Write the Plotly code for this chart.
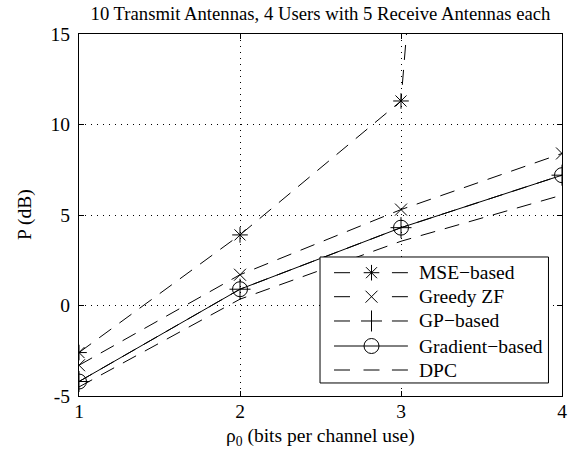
import plotly.graph_objects as go

# ---- data ----
rho = [1, 2, 3, 4]
mse_based = [-2.6, 3.9, 11.3, 120.0]
greedy_zf = [-3.3, 1.7, 5.3, 8.4]
gp_based = [-4.2, 0.9, 4.3, 7.2]
gradient_based = [-4.2, 0.9, 4.3, 7.2]
dpc = [-4.5, 0.35, 3.55, 6.1]

x_ticks = [1, 2, 3, 4]
y_ticks = [-5, 0, 5, 10, 15]
legend_names = ["MSE\u2212based", "Greedy ZF", "GP\u2212based", "Gradient\u2212based", "DPC"]

FONT = "Liberation Serif, Times New Roman, serif"
FS = 19.5
DASH = "15px,10px"

fig = go.Figure()

series = [
    (mse_based, "asterisk-open", 13, DASH),
    (greedy_zf, "x-thin-open", 12, DASH),
    (gp_based, "cross-thin-open", 15, DASH),
    (gradient_based, "circle-open", 15, "solid"),
    (dpc, None, 0, DASH),
]

for vals, sym, sz, dash in series:
    if sym is None:
        fig.add_trace(go.Scatter(x=rho, y=vals, mode="lines",
                                 line=dict(color="black", width=1, dash=dash),
                                 showlegend=False, hoverinfo="skip"))
    else:
        fig.add_trace(go.Scatter(x=rho, y=vals, mode="lines+markers",
                                 line=dict(color="black", width=1, dash=dash),
                                 marker=dict(symbol=sym, size=sz, color="black",
                                             line=dict(color="black", width=1)),
                                 showlegend=False, hoverinfo="skip"))

# ---- manual legend (overlay axes in paper-like units) ----
L, R, T, B = 0.499, 0.972, 0.384, 0.036
fig.add_trace(go.Scatter(x=[L, R, R, L, L], y=[B, B, T, T, B], mode="lines",
                         fill="toself", fillcolor="white",
                         line=dict(color="black", width=1),
                         xaxis="x2", yaxis="y2", showlegend=False, hoverinfo="skip"))
rows = [0.3406, 0.2743, 0.2072, 0.1381, 0.0718]
sx0, sx1, smid = 0.528, 0.681, 0.6056
d = 0.0331  # dash length in paper units
seg_dashed = [sx0, sx0 + d, None, sx1 - d, sx1]
seg_dpc = [sx0, sx0 + d, None, smid - d / 2, smid + d / 2, None, sx1 - d, sx1]
for (vals, sym, sz, dash), ry, name in zip(series, rows, legend_names):
    if dash == "solid":
        xs = [sx0, sx1]
    elif sym is None:
        xs = seg_dpc
    else:
        xs = seg_dashed
    ys = [None if v is None else ry for v in xs]
    fig.add_trace(go.Scatter(x=xs, y=ys, mode="lines",
                             line=dict(color="black", width=1),
                             xaxis="x2", yaxis="y2", showlegend=False, hoverinfo="skip"))
    if sym is not None:
        fig.add_trace(go.Scatter(x=[smid], y=[ry], mode="markers",
                                 marker=dict(symbol=sym, size=sz, color="black",
                                             line=dict(color="black", width=1)),
                                 xaxis="x2", yaxis="y2", showlegend=False, hoverinfo="skip"))
    fig.add_annotation(x=0.6998, y=ry, xref="paper", yref="paper", text=name,
                       showarrow=False, xanchor="left", yanchor="middle",
                       font=dict(family=FONT, size=FS, color="black"))

axis_common = dict(showline=True, linecolor="black", linewidth=1, mirror="ticks",
                   ticks="inside", ticklen=5, tickcolor="black", tickwidth=1,
                   showgrid=True, gridcolor="black", gridwidth=1, griddash="1px,5px",
                   zeroline=False,
                   tickfont=dict(family=FONT, size=FS, color="black"))

fig.update_layout(
    width=583, height=460,
    margin=dict(l=79, r=21, t=34, b=64),
    paper_bgcolor="white", plot_bgcolor="white",
    showlegend=False,
    xaxis=dict(range=[1, 4], tickvals=x_ticks, ticktext=[str(v) for v in x_ticks],
               ticklabelstandoff=-2, **axis_common),
    yaxis=dict(range=[-5, 15], tickvals=y_ticks, ticktext=[str(v) for v in y_ticks],
               ticklabelstandoff=4, **axis_common),
    xaxis2=dict(overlaying="x", range=[0, 1], visible=False, fixedrange=True),
    yaxis2=dict(overlaying="y", range=[0, 1], visible=False, fixedrange=True),
    title=dict(text="10 Transmit Antennas, 4 Users with 5 Receive Antennas each",
               x=0.5, xref="paper", xanchor="center",
               y=1 - 13 / 460, yref="container", yanchor="middle",
               font=dict(family=FONT, size=18.7, color="black")),
)

fig.add_annotation(x=0.5, y=-0.1133, xref="paper", yref="paper",
                   text="\u03c1<sub>0</sub> (bits per channel use)", showarrow=False,
                   xanchor="center", yanchor="middle",
                   font=dict(family=FONT, size=FS, color="black"))
fig.add_annotation(x=-0.1118, y=0.5, xref="paper", yref="paper",
                   text="P (dB)", showarrow=False, textangle=-90,
                   xanchor="center", yanchor="middle",
                   font=dict(family=FONT, size=FS, color="black"))

fig.write_html("out.html", config={"displayModeBar": False},
               post_script="document.body.style.margin='0';")
